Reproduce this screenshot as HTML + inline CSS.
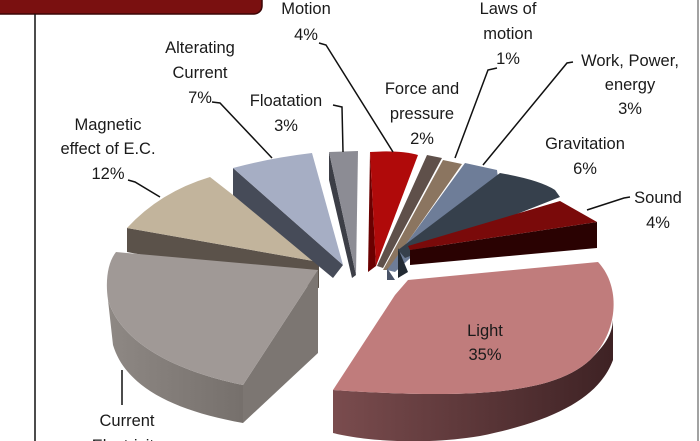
<!DOCTYPE html>
<html><head><meta charset="utf-8"><style>
html,body{margin:0;padding:0;background:#fff;}
svg{display:block;}
text{font-family:"Liberation Sans",sans-serif;font-size:16.5px;fill:#1a1a1a;text-anchor:middle;}
</style></head><body>
<svg width="700" height="441" viewBox="0 0 700 441" xmlns="http://www.w3.org/2000/svg">
<defs>
<linearGradient id="lside" x1="0" x2="1" y1="0" y2="0"><stop offset="0" stop-color="#7a4c4e"/><stop offset="1" stop-color="#3e2224"/></linearGradient>
<linearGradient id="cside" x1="0" x2="1" y1="0" y2="0"><stop offset="0" stop-color="#8e8884"/><stop offset="1" stop-color="#76706c"/></linearGradient>
</defs>
<rect x="0" y="0" width="700" height="441" fill="#fff"/>
<rect x="-10" y="-10" width="272" height="24" rx="8" fill="#7a1010" stroke="#3a0505" stroke-width="1.5"/>
<line x1="35" y1="14" x2="35" y2="441" stroke="#111" stroke-width="1.5"/>
<line x1="698" y1="0" x2="698" y2="441" stroke="#444" stroke-width="1"/>

<path d="M127,228 L127,252 L319,288 L319,262 Z" fill="#5b524a"/>
<path d="M210,177 Q160,192 127,228 L319,262 Z" fill="#c2b49c"/>
<path d="M233,168 L233,195 L333,278 L343,265 Z" fill="#464b58"/>
<path d="M233,168 Q270,158 312,153 L343,265 Z" fill="#a6aec4"/>
<path d="M329,152 L329,180 L352,278 L356,275 Z" fill="#3c3e46"/>
<path d="M329,152 L358,151 L356,275 Z" fill="#8c8c94"/>
<path d="M370,152 L368,272 L376,266 Z" fill="#6a0000"/>
<path d="M370,152 Q400,150 418,155 L376,266 Z" fill="#b00a0a"/>
<path d="M377,266 L427,155 L442,158 L383,268 Z" fill="#5f504a"/>
<path d="M383,270 L443,160 L462,164 L388,270 Z" fill="#8b7560"/>
<path d="M387,268 L387,280 L395,280 Z" fill="#4a5468"/>
<path d="M387,270 L465,163 L497,170 L498,178 L395,272 Z" fill="#6e7d98"/>
<path d="M398,248 L398,278 L408,272 Z" fill="#222a33"/>
<path d="M398,250 L500,173 Q540,180 555,190 L560,197 L405,258 Z" fill="#36404c"/>
<path d="M410,250 L597,222 L597,248 L410,265 Z" fill="#2a0202"/>
<path d="M408,246 L560,201 L597,222 L410,250 Z" fill="#7a0a0a"/>
<path d="M333,390 C480,400 555,392 590,360 C605,345 612,335 613,320 L613,360 C600,395 560,420 480,436 C420,446 360,440 333,433 Z" fill="url(#lside)"/>
<path d="M395,295 L408,280 L598,262 C620,285 620,330 590,360 C555,392 480,400 333,390 Z" fill="#c07c7c"/>
<path d="M108,300 C120,340 170,370 243,385 L243,423 C170,410 125,385 113,345 Z" fill="url(#cside)"/>
<path d="M318,270 L318,353 L243,423 L243,385 Z" fill="#7c7672"/>
<path d="M116,252 L318,270 L243,385 C170,370 120,340 108,300 C105,280 108,262 116,252 Z" fill="#a09996"/>

<g fill="none" stroke="#111" stroke-width="1.5">
<polyline points="319,43 326,45 393,152"/>
<polyline points="212,102 220,103 272,158"/>
<polyline points="333,105 342,107 343,152"/>
<polyline points="128,180 135,182 160,197"/>
<polyline points="497,68 488,70 455,158"/>
<polyline points="573,62 567,63 483,165"/>
<polyline points="630,197 624,198 587,210"/>
<line x1="122" y1="370" x2="122" y2="405"/>
</g>

<text x="306" y="14">Motion</text><text x="306" y="40">4%</text>
<text x="200" y="53">Alterating</text><text x="200" y="78">Current</text><text x="200" y="103">7%</text>
<text x="286" y="106">Floatation</text><text x="286" y="131">3%</text>
<text x="108" y="130">Magnetic</text><text x="108" y="154">effect of E.C.</text><text x="108" y="179">12%</text>
<text x="422" y="94">Force and</text><text x="422" y="119">pressure</text><text x="422" y="144">2%</text>
<text x="508" y="14">Laws of</text><text x="508" y="39">motion</text><text x="508" y="64">1%</text>
<text x="630" y="66">Work, Power,</text><text x="630" y="90">energy</text><text x="630" y="114">3%</text>
<text x="585" y="149">Gravitation</text><text x="585" y="174">6%</text>
<text x="658" y="203">Sound</text><text x="658" y="228">4%</text>
<text x="485" y="336">Light</text><text x="485" y="360">35%</text>
<text x="127" y="426">Current</text><text x="127" y="451">Electricity</text>
</svg>
</body></html>
